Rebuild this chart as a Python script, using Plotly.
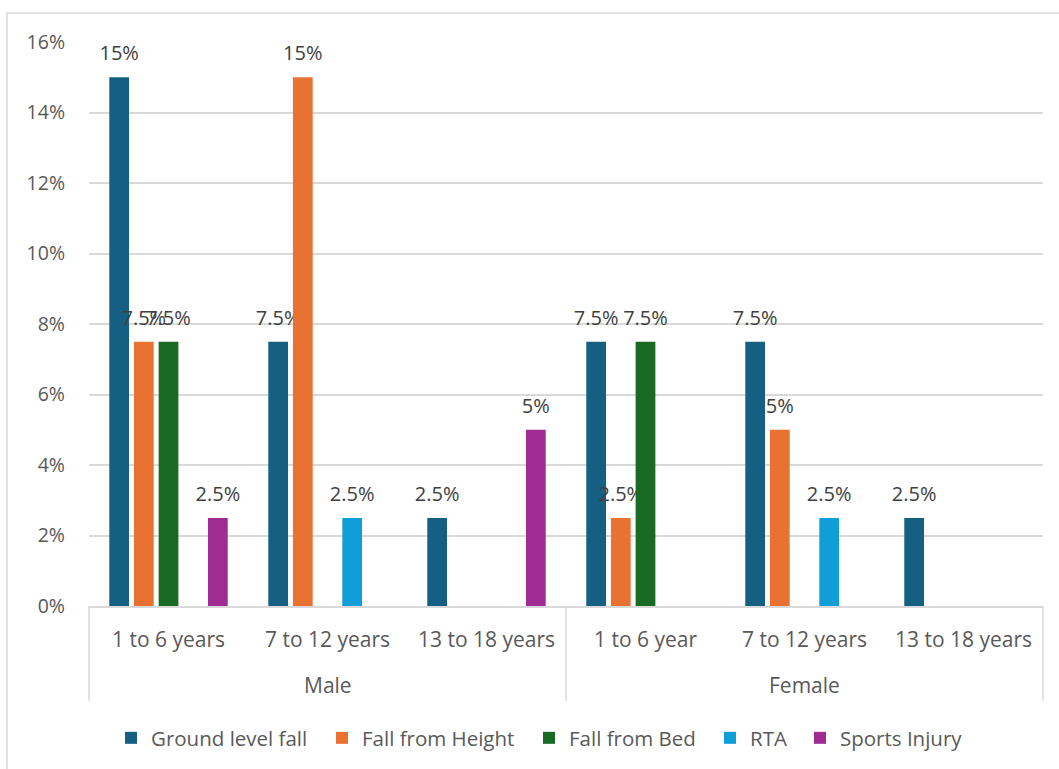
import plotly.graph_objects as go

genders = ["Male", "Male", "Male", "Female", "Female", "Female"]
ages = ["1 to 6 years", "7 to 12 years", "13 to 18 years",
        "1 to 6 year", "7 to 12 years", "13 to 18 years"]

series_names = ["Ground level fall", "Fall from Height", "Fall from Bed", "RTA", "Sports Injury"]
ground_level_fall = [15, 7.5, 2.5, 7.5, 7.5, 2.5]
fall_from_height = [7.5, 15, 0, 2.5, 5, 0]
fall_from_bed = [7.5, 0, 0, 7.5, 0, 0]
rta = [0, 2.5, 0, 0, 2.5, 0]
sports_injury = [2.5, 0, 5, 0, 0, 0]
series_values = [ground_level_fall, fall_from_height, fall_from_bed, rta, sports_injury]
colors = ["#156082", "#E97132", "#196B24", "#0F9ED5", "#A02B93"]

FONT = "Open Sans"
GRID = "#d9d9d9"
TXT = "#595959"

# composite category keys keep the (gender, age) pairs in their original order
keys = [f"{g} · {a}" for g, a in zip(genders, ages)]
n = len(keys)

# pixel geometry of the plot area (layout only)
W, H = 1059, 769
ML, MR, MT, MB = 89, 16, 42, 162
plot_h = H - MT - MB

def py(px):  # page pixel row -> paper y
    return (H - MB - px) / plot_h

def px_x(px):  # page pixel column -> paper x
    return (px - ML) / (W - ML - MR)

PAD = "<span style='font-size:48px'> </span>"

fig = go.Figure()
legend_names = ["legend", "legend2", "legend3", "legend4", "legend5"]
for name, vals, col, lg in zip(series_names, series_values, colors, legend_names):
    labels = [(f"{PAD}{v:g}%{PAD}" if v else "") for v in vals]
    fig.add_trace(go.Bar(
        name=name, x=keys, y=vals, marker_color=col, marker_line_width=0,
        text=labels, textposition="outside", constraintext="none", cliponaxis=False,
        textfont=dict(family=FONT, size=20, color="#404040"),
        hoverinfo="skip", legend=lg,
    ))

annotations = []
for k, a in zip(keys, ages):
    annotations.append(dict(x=k, xref="x", y=py(640), yref="paper", text=a,
                            showarrow=False, xanchor="center", yanchor="middle",
                            font=dict(family=FONT, size=21, color=TXT)))
outer = []
for i, g in enumerate(genders):
    if not outer or outer[-1][0] != g:
        outer.append([g, i, i])
    else:
        outer[-1][2] = i
shapes = []
for g, i0, i1 in outer:
    annotations.append(dict(x=((i0 + i1) / 2 + 0.5) / n, xref="paper", y=py(686), yref="paper",
                            text=g, showarrow=False, xanchor="center", yanchor="middle",
                            font=dict(family=FONT, size=21, color=TXT)))
bounds = sorted({o[1] / n for o in outer} | {(o[2] + 1) / n for o in outer})
for b in bounds:
    shapes.append(dict(type="line", xref="paper", yref="paper", x0=b, x1=b,
                       y0=0, y1=py(702), line=dict(color=GRID, width=1.5)))
shapes.append(dict(type="rect", xref="paper", yref="paper",
                   x0=px_x(7), x1=px_x(1075), y0=py(790), y1=py(13),
                   line=dict(color=GRID, width=1.5), layer="below"))

legend_px = [111, 322, 529, 710, 800]
legend_layout = {}
for lg, lx in zip(legend_names, legend_px):
    legend_layout[lg] = dict(orientation="h", x=px_x(lx), xanchor="left", y=py(738),
                             yanchor="middle", bgcolor="rgba(0,0,0,0)",
                             font=dict(family=FONT, size=20.5, color=TXT))

fig.update_layout(
    width=W, height=H,
    margin=dict(l=ML, r=MR, t=MT, b=MB),
    paper_bgcolor="white", plot_bgcolor="white",
    barmode="group", bargap=0.224, bargroupgap=0.2,
    font=dict(family=FONT, size=19, color=TXT),
    showlegend=True,
    annotations=annotations, shapes=shapes,
    **legend_layout,
)
fig.update_yaxes(range=[0, 16], dtick=2, ticksuffix="%", showgrid=True,
                 gridcolor=GRID, gridwidth=1.5, zeroline=False, showline=False,
                 ticklabelstandoff=23, tickfont=dict(family=FONT, size=19.5, color=TXT))
fig.update_xaxes(showline=True, linecolor=GRID, linewidth=1.5, showgrid=False,
                 showticklabels=False, ticks="")

fig.write_html("out.html")
